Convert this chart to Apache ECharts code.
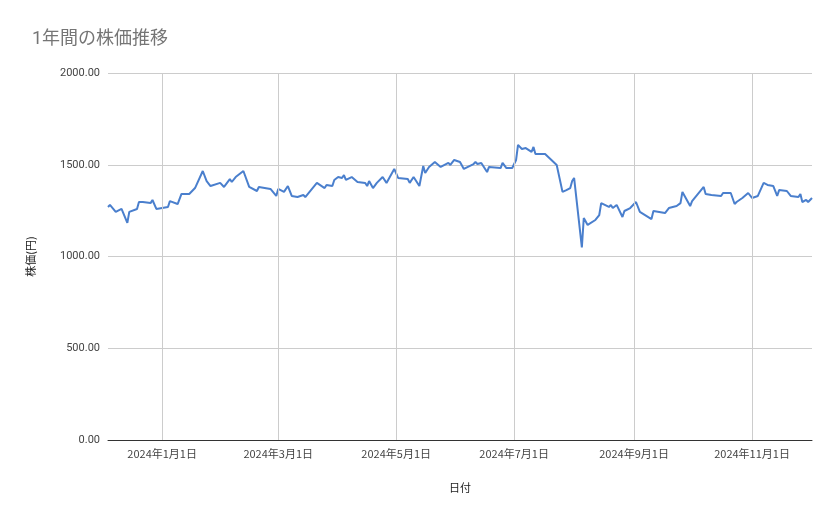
<!DOCTYPE html>
<html><head><meta charset="utf-8">
<script src="https://cdn.jsdelivr.net/npm/echarts@6/dist/echarts.min.js"></script>
<style>html,body{margin:0;padding:0;background:#fff}#c{width:839px;height:519px}</style>
</head><body><div id="c"></div>
<script>
// days since 2024-01-01
const dayOffsets = [-28,-27,-24,-21,-18,-17,-13,-12,-10,-6,-5,-3,3,4,8,10,14,17,21,23,25,30,32,35,36,38,42,45,49,50,56,59,60,63,65,67,70,73,74,80,84,85,88,89,91,93,94,95,98,101,105,106,107,109,111,114,116,120,122,127,128,130,133,135,136,138,141,142,144,148,149,151,154,156,161,162,163,165,168,169,175,176,178,181,183,184,186,188,189,191,192,193,198,204,207,209,211,212,213,217,218,220,224,226,227,231,232,233,235,238,239,242,245,247,253,254,260,262,266,268,269,273,274,275,280,281,282,284,289,290,294,296,297,300,303,305,308,311,313,316,318,319,323,325,329,330,331,333,334,336];
const prices = [1270,1281,1243,1259,1183,1243,1259,1297,1297,1291,1308,1259,1270,1302,1286,1341,1341,1373,1466,1411,1384,1401,1379,1422,1406,1433,1466,1379,1357,1379,1368,1330,1368,1352,1384,1330,1324,1335,1324,1401,1373,1390,1384,1417,1433,1428,1444,1417,1433,1406,1401,1384,1411,1373,1401,1433,1401,1477,1428,1422,1401,1433,1384,1493,1455,1488,1515,1515,1488,1510,1499,1526,1515,1477,1504,1515,1504,1510,1460,1488,1482,1510,1482,1482,1526,1608,1586,1591,1597,1570,1597,1559,1559,1499,1352,1362,1373,1411,1428,1050,1210,1172,1199,1226,1291,1270,1281,1264,1281,1215,1248,1264,1297,1243,1204,1248,1237,1264,1275,1291,1352,1275,1302,1297,1379,1341,1346,1335,1330,1346,1346,1286,1297,1319,1346,1319,1330,1401,1390,1384,1330,1362,1357,1330,1324,1341,1297,1308,1297,1319];
const tickLabels = ['2024年1月1日','2024年3月1日','2024年5月1日','2024年7月1日','2024年9月1日','2024年11月1日'];
const tickOffsets = [0,60,121,182,244,305];

const data = dayOffsets.map((o,i)=>[o,prices[i]]);
const chart = echarts.init(document.getElementById('c'));
chart.setOption({
  animation:false,
  title:{text:'1年間の株価推移',left:27,top:26,textStyle:{color:'#757575',fontSize:18,fontWeight:'normal',fontFamily:'Roboto, Noto Sans CJK JP'}},
  grid:{left:108,right:27,top:73,bottom:79},
  xAxis:{type:'value',min:-28,max:336,name:'日付',nameLocation:'middle',nameGap:42,
    nameTextStyle:{color:'#222',fontSize:11,fontFamily:'Noto Sans CJK JP'},
    axisLine:{onZero:false,lineStyle:{color:'#333'}},axisTick:{show:false},splitLine:{show:false},
    axisLabel:{show:false}},
  yAxis:{type:'value',min:0,max:2000,interval:500,name:'株価(円)',nameLocation:'middle',nameGap:72,
    nameTextStyle:{color:'#222',fontSize:11,fontFamily:'Noto Sans CJK JP'},
    axisLine:{show:false},axisTick:{show:false},
    splitLine:{lineStyle:{color:'#cccccc'}},
    axisLabel:{color:'#444',fontSize:11,fontFamily:'Roboto',formatter:v=>v.toFixed(2)}},
  series:[{type:'line',data:data,showSymbol:false,lineStyle:{color:'#4a7fcd',width:2},
    itemStyle:{color:'#4a7fcd'},z:3,
    markLine:{silent:true,symbol:'none',lineStyle:{color:'#cccccc',type:'solid',width:1},
      label:{show:true,position:'start',distance:8,color:'#444',fontSize:11,fontFamily:'Noto Sans CJK JP'},
      data:tickOffsets.map((t,i)=>({xAxis:t,label:{formatter:tickLabels[i]}}))}}]
});
</script></body></html>
